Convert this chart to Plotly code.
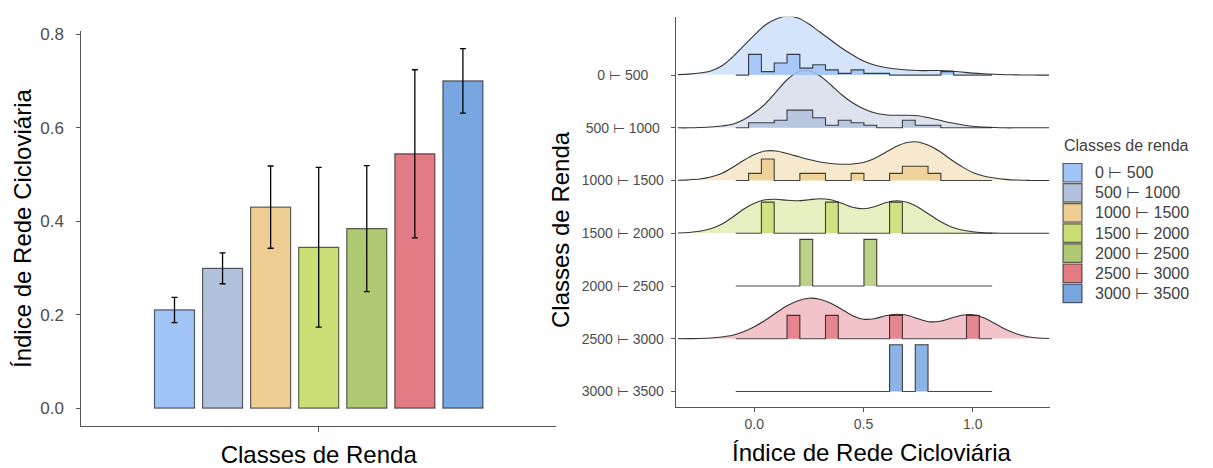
import plotly.graph_objects as go

W, H = 1213, 468

# ---------------- data ----------------
classes = ["0 ⊢ 500", "500 ⊢ 1000", "1000 ⊢ 1500", "1500 ⊢ 2000",
           "2000 ⊢ 2500", "2500 ⊢ 3000", "3000 ⊢ 3500"]
class_colors = ["#A0C4F6", "#B2C2DC", "#EECE92", "#CADE76",
                "#B0CA74", "#E37B85", "#78A6E0"]

# left panel: mean index per income class and error (half-length)
mean_index = [0.210, 0.299, 0.430, 0.344, 0.384, 0.544, 0.700]
error_index = [0.027, 0.033, 0.088, 0.171, 0.135, 0.180, 0.069]
bar_y_ticks = [0.0, 0.2, 0.4, 0.6, 0.8]

# right panel: histogram counts (20 bins) per class
hist_bin_start = -0.085
hist_bin_width = 0.0587
counts_0_500 = [0, 12, 2, 7, 12, 4, 6, 3, 1, 3, 1, 1, 0, 0, 0, 0, 2, 0, 0, 0]
counts_500_1000 = [0, 2, 2, 3, 7, 7, 4, 1, 3, 2, 1, 0, 0, 3, 1, 1, 0, 0, 0, 0]
counts_1000_1500 = [0, 1, 3, 0, 0, 1, 1, 0, 0, 1, 0, 0, 1, 2, 2, 1, 0, 0, 0, 0]
counts_1500_2000 = [0, 0, 1, 0, 0, 0, 0, 1, 0, 0, 0, 0, 1, 0, 0, 0, 0, 0, 0, 0]
counts_2000_2500 = [0, 0, 0, 0, 0, 1, 0, 0, 0, 0, 1, 0, 0, 0, 0, 0, 0, 0, 0, 0]
counts_2500_3000 = [0, 0, 0, 0, 1, 0, 0, 1, 0, 0, 0, 0, 1, 0, 0, 0, 0, 0, 1, 0]
counts_3000_3500 = [0, 0, 0, 0, 0, 0, 0, 0, 0, 0, 0, 0, 1, 0, 1, 0, 0, 0, 0, 0]

# right panel: kernel density curves (scaled density)
density_x = [-0.35, -0.30, -0.25, -0.20, -0.15, -0.10, -0.05, 0.00, 0.05, 0.10,
             0.15, 0.20, 0.25, 0.30, 0.35, 0.40, 0.45, 0.50, 0.55, 0.60,
             0.65, 0.70, 0.75, 0.80, 0.85, 0.90, 0.95, 1.00, 1.05, 1.10,
             1.15, 1.20, 1.25, 1.30, 1.35]
density_0_500 = [0.5, 1, 2, 4, 9, 18, 29, 40, 50, 56, 59, 57, 51, 43, 35, 27, 20, 14,
                 10, 7.5, 6, 5, 4.5, 4.5, 4.5, 4, 3, 2, 1.3, 0.8, 0.4, 0.2, 0.1, 0, 0]
density_500_1000 = [0, 0, 0.3, 0.8, 1.8, 3.5, 8, 15, 24, 36, 48, 56, 57, 52, 43, 33, 25,
                    19, 15, 13, 12.5, 12.5, 12, 10, 7.5, 5, 3, 1.5, 0.8, 0.3, 0, 0, 0, 0, 0]
density_1000_1500 = [0.3, 0.7, 1.5, 3.5, 7, 13, 20, 26, 29.5, 29.5, 27, 24, 21, 18.5, 17,
                     16.3, 16.5, 18, 22, 28, 34, 38, 38.5, 35, 29, 21, 14, 8, 4.5, 2.5,
                     1.2, 0.5, 0.2, 0, 0]
density_1500_2000 = [0.3, 0.8, 2, 4.5, 9, 16, 24, 30, 33.5, 34, 33, 32.5, 33.5, 34.5, 33.5,
                     30, 26, 24.5, 26.5, 30.5, 32.5, 31, 26, 19, 12, 6.5, 3.2, 1.5, 0.6,
                     0.2, 0, 0, 0, 0, 0]
density_2500_3000 = [0, 0.1, 0.3, 0.8, 1.8, 3.5, 7, 12, 18.5, 26, 33, 38, 40.5, 39.5, 35.5,
                     29.5, 23, 19.5, 20, 23, 24.5, 23.5, 20, 17, 17.5, 20.5, 23.5, 24, 21,
                     15.5, 9.5, 5, 2, 0.8, 0.3]
ridge_x_ticks = [0.0, 0.5, 1.0]

all_counts = [counts_0_500, counts_500_1000, counts_1000_1500, counts_1500_2000,
              counts_2000_2500, counts_2500_3000, counts_3000_3500]
all_density = [density_0_500, density_500_1000, density_1000_1500, density_1500_2000,
               None, density_2500_3000, None]

# ---------------- style ----------------
FONT = "Liberation Sans, Arial, sans-serif"
AXIS_GREY = "#555555"
TICK_GREY = "#4d4d4d"
density_scale = 1 / 52.7     # scaled density -> ridge units
hist_scale = 1.77            # histogram (count / n) -> ridge units


def rgba(hex_color, a):
    h = hex_color.lstrip("#")
    r, g, b = int(h[0:2], 16), int(h[2:4], 16), int(h[4:6], 16)
    return f"rgba({r},{g},{b},{a})"


fig = go.Figure()

# ---------------- left: bar chart ----------------
for i, cls in enumerate(classes):
    fig.add_trace(go.Bar(
        x=["Classes de Renda"], y=[mean_index[i]], name=cls,
        marker=dict(color=class_colors[i], line=dict(color="rgba(0,0,0,0.6)", width=1.2)),
        error_y=dict(type="data", array=[error_index[i]], color="black",
                     thickness=1.3, width=3),
        showlegend=False, xaxis="x", yaxis="y", hoverinfo="y"))

n_rows = len(classes)

# ---------------- right: ridgelines ----------------
for i, cls in enumerate(classes):
    dens = all_density[i]
    if dens is None:
        continue
    base = n_rows - 1 - i
    fig.add_trace(go.Scatter(
        x=density_x, y=[base + d * density_scale for d in dens],
        mode="lines", line=dict(color="rgba(20,20,20,0.85)", width=1.1, shape="spline", smoothing=0.8),
        fill="toself", fillcolor=rgba(class_colors[i], 0.45),
        showlegend=False, xaxis="x2", yaxis="y2", hoverinfo="skip"))

for i, cls in enumerate(classes):
    counts = all_counts[i]
    base = n_rows - 1 - i
    n = sum(counts)
    edges = [hist_bin_start + k * hist_bin_width for k in range(len(counts) + 1)]
    heights = [c / n * hist_scale for c in counts]
    xs = [edges[0]] + edges[:-1] + [edges[-1]]
    ys = [base] + [base + h for h in heights] + [base]
    fig.add_trace(go.Scatter(
        x=xs, y=ys, mode="lines",
        line=dict(color="rgba(10,10,10,0.75)", width=1.1, shape="hv"),
        fill="toself", fillcolor=rgba(class_colors[i], 0.85),
        name=cls, showlegend=False, xaxis="x2", yaxis="y2", hoverinfo="skip"))

# ---------------- manual legend + right-panel titles ----------------
shapes = []
annotations = []
leg_x0, leg_x1 = 1063, 1082
leg_top0, leg_pitch, leg_h = 163.5, 20.1, 18.5
annotations.append(dict(x=1062 / W, y=1 - 145 / H, xref="paper", yref="paper",
                        text="Classes de renda", showarrow=False, xanchor="left",
                        yanchor="middle", font=dict(family=FONT, size=16, color="#404040")))
for i, cls in enumerate(classes):
    top = leg_top0 + i * leg_pitch
    shapes.append(dict(type="rect", xref="paper", yref="paper",
                       x0=leg_x0 / W, x1=leg_x1 / W, y0=1 - top / H, y1=1 - (top + leg_h) / H,
                       fillcolor=class_colors[i], line=dict(color="rgba(0,0,0,0.6)", width=1.2)))
    annotations.append(dict(x=1093 / W, y=1 - (top + leg_h / 2) / H, xref="paper", yref="paper",
                            text=cls, showarrow=False, xanchor="left", yanchor="middle",
                            font=dict(family=FONT, size=16, color="#404040")))

annotations.append(dict(x=871.5 / W, y=1 - 452 / H, xref="paper", yref="paper",
                        text="Índice de Rede Cicloviária", showarrow=False,
                        xanchor="center", yanchor="middle",
                        font=dict(family=FONT, size=24, color="black")))
annotations.append(dict(x=560 / W, y=1 - 230 / H, xref="paper", yref="paper",
                        text="Classes de Renda", showarrow=False, textangle=-90,
                        xanchor="center", yanchor="middle",
                        font=dict(family=FONT, size=24, color="black")))

pad_width = 11
ridge_ticktext = [c + "\u00a0" * max(0, pad_width - len(c)) for c in classes]

fig.update_layout(
    width=W, height=H, margin=dict(l=0, r=0, t=0, b=0),
    paper_bgcolor="white", plot_bgcolor="white",
    font=dict(family=FONT, color="black"),
    barmode="group", bargap=0.291, bargroupgap=0.168,
    showlegend=False,
    shapes=shapes, annotations=annotations,
    xaxis=dict(domain=[81.4 / W, 556 / W], anchor="y", type="category", range=[-0.5, 0.5],
               showline=True, linecolor=AXIS_GREY, linewidth=1.2, ticks="outside",
               ticklen=5, tickcolor=AXIS_GREY, showticklabels=False, showgrid=False,
               zeroline=False, automargin=False,
               title=dict(text="Classes de Renda", font=dict(size=24, color="black"), standoff=23)),
    yaxis=dict(domain=[1 - 426 / H, 1 - 31.2 / H], anchor="x", range=[-0.0384, 0.8065],
               tickvals=bar_y_ticks, tickformat=".1f", showline=True, linecolor=AXIS_GREY,
               linewidth=1.2, ticks="outside", ticklen=4, tickcolor=AXIS_GREY,
               ticklabelstandoff=9,
               tickfont=dict(size=17, color=TICK_GREY), showgrid=False, zeroline=False,
               automargin=False,
               title=dict(text="Índice de Rede Cicloviária", font=dict(size=24, color="black"),
                          standoff=1)),
    xaxis2=dict(domain=[675.7 / W, 1050 / W], anchor="y2", range=[-0.36, 1.354],
                tickvals=ridge_x_ticks, tickformat=".1f", showline=True, linecolor=AXIS_GREY,
                linewidth=1.2, ticks="outside", ticklen=4, tickcolor=AXIS_GREY,
                tickfont=dict(size=14, color=TICK_GREY), showgrid=False, zeroline=False,
                automargin=False),
    yaxis2=dict(domain=[1 - 407.3 / H, 1 - 16.7 / H], anchor="x2", range=[-0.3, 7.107],
                tickvals=[n_rows - 1 - i for i in range(n_rows)], ticktext=ridge_ticktext,
                showline=True, linecolor=AXIS_GREY, linewidth=1.2, ticks="outside", ticklen=4,
                ticklabelstandoff=4,
                tickcolor=AXIS_GREY, tickfont=dict(size=14, color=TICK_GREY), showgrid=False,
                zeroline=False, automargin=False),
)

fig.write_html("out.html", config={"displayModeBar": False},
               post_script="document.body.style.margin='0';document.body.style.overflow='hidden';")
